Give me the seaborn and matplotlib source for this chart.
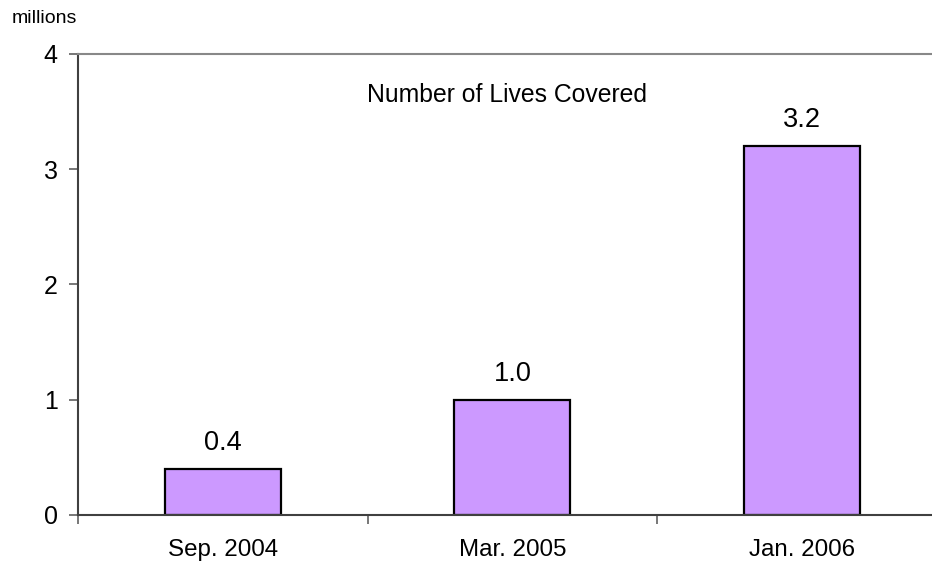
import pandas as pd
import matplotlib
matplotlib.use('Agg')
import matplotlib.pyplot as plt
import seaborn as sns

# Daten
dates = ['Sep. 2004', 'Mar. 2005', 'Jan. 2006']
lives = [0.4, 1.0, 3.2]
labels = ['0.4', '1.0', '3.2']

df = pd.DataFrame({'date': dates, 'lives': lives})

sns.set_style('white')
plt.rcParams['font.family'] = ['Liberation Sans', 'DejaVu Sans']
plt.rcParams['text.color'] = 'black'
plt.rcParams['xtick.color'] = 'black'
plt.rcParams['ytick.color'] = 'black'

fig = plt.figure(figsize=(9.32, 5.65), dpi=100)
ax = fig.add_axes([0.0837, 0.0885, 0.932, 0.816])

sns.barplot(data=df, x='date', y='lives', color='#CC99FF', edgecolor='black',
            linewidth=1.6, width=0.4, saturation=1, ax=ax)

# Werte über den Balken
for i, (v, t) in enumerate(zip(lives, labels)):
    ax.annotate(t, (i, v), xytext=(0, 9.5), textcoords='offset points',
                ha='center', va='bottom', fontsize=19.5)

ax.text(0.98, 3.64, 'Number of Lives Covered', ha='center', va='center', fontsize=17.8)

ax.set_xlim(-0.5, 2.5)
ax.set_ylim(0, 4)
ax.set_yticks([0, 1, 2, 3, 4])
ax.set_xticks([-0.5, 0.5, 1.5, 2.5], minor=True)
ax.tick_params(axis='x', which='major', length=0, pad=17, labelsize=17.4)
ax.tick_params(axis='x', which='minor', length=6.5, width=1.2, color='#606060', direction='out', bottom=True)
ax.tick_params(axis='y', length=6.5, width=1.2, color='#606060', labelcolor='black',
               direction='out', left=True, labelsize=18, pad=8)
ax.set_xlabel('')
ax.set_ylabel('')

for s in ['left', 'bottom']:
    ax.spines[s].set_color('#404040')
    ax.spines[s].set_linewidth(1.5)
ax.spines['top'].set_color('#888888')
ax.spines['top'].set_linewidth(1.5)
ax.spines['right'].set_visible(False)

fig.text(0.013, 0.967, 'millions', fontsize=14, ha='left', va='center')

fig.savefig('out.png', dpi=100)
